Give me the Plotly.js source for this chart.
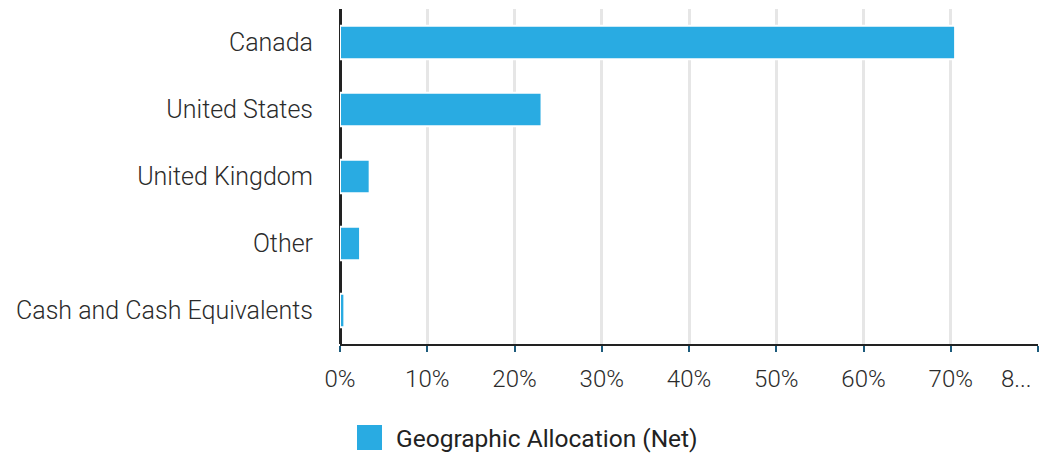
<!DOCTYPE html>
<html>
<head>
<meta charset="utf-8">
<script src="https://cdn.plot.ly/plotly-3.0.1.min.js"></script>
<style>html,body{margin:0;padding:0;background:#fff;}#chart{width:1045px;height:457px;}</style>
</head>
<body>
<div id="chart"></div>
<script>
const categories = ["Canada", "United States", "United Kingdom", "Other", "Cash and Cash Equivalents"];
const values = [0.705, 0.231, 0.034, 0.023, 0.005];
const seriesName = "Geographic Allocation (Net)";
const tickVals = [0, 0.1, 0.2, 0.3, 0.4, 0.5, 0.6, 0.7, 0.8];
const tickText = ["0%", "10%", "20%", "30%", "40%", "50%", "60%", "70%", "8..."];

const barColor = "#29abe2";
const fontFamily = "Roboto, 'Noto Sans', sans-serif";
const lastIdx = tickText.length - 1;
const axisTickText = tickText.map((t, i) => i === lastIdx ? "" : t);

const data = [{
  type: "bar",
  orientation: "h",
  x: values,
  y: categories,
  name: seriesName,
  marker: {color: barColor, line: {color: "#ffffff", width: 2}},
  width: 0.5,
  showlegend: false,
  hoverinfo: "none"
}];

const layout = {
  width: 1045, height: 457,
  margin: {l: 340, r: 7, t: 9, b: 113},
  paper_bgcolor: "#fff", plot_bgcolor: "#fff",
  font: {family: fontFamily, color: "#2b2b2b", size: 24, weight: 300},
  xaxis: {
    range: [0, 0.8],
    tickvals: tickVals,
    ticktext: axisTickText,
    showgrid: true, gridcolor: "#e6e6e6", gridwidth: 3,
    zeroline: true, zerolinecolor: "#222", zerolinewidth: 3,
    showline: true, linecolor: "#222", linewidth: 2,
    ticks: "outside", tickcolor: "#1d5b7c", ticklen: 6, tickwidth: 2,
    ticklabelstandoff: 6,
    tickfont: {family: fontFamily, size: 24, color: "#2b2b2b", weight: 300},
    fixedrange: true
  },
  yaxis: {
    autorange: "reversed",
    showgrid: false, zeroline: false, showline: false,
    ticks: "", ticklabelstandoff: 26,
    tickfont: {family: fontFamily, size: 25, color: "#2b2b2b", weight: 300},
    fixedrange: true
  },
  shapes: [{
    type: "rect", xref: "paper", yref: "paper",
    x0: (357 - 340) / 698, x1: (382 - 340) / 698,
    y0: -(425 - 344) / 335, y1: -(450 - 344) / 335,
    fillcolor: barColor, line: {width: 0}
  }],
  annotations: [{
    xref: "paper", yref: "paper",
    x: (394 - 340) / 698, y: -(438 - 344) / 335,
    xanchor: "left", yanchor: "middle", showarrow: false,
    text: seriesName,
    font: {family: fontFamily, size: 24.5, color: "#222", weight: 400}
  }, {
    xref: "x", yref: "paper",
    x: tickVals[lastIdx], y: -(379 - 344) / 335,
    xanchor: "right", yanchor: "middle", showarrow: false,
    xshift: -4,
    text: tickText[lastIdx],
    font: {family: fontFamily, size: 24, color: "#2b2b2b", weight: 300}
  }],
  showlegend: false
};

Plotly.newPlot("chart", data, layout, {displayModeBar: false, staticPlot: true});
</script>
</body>
</html>
